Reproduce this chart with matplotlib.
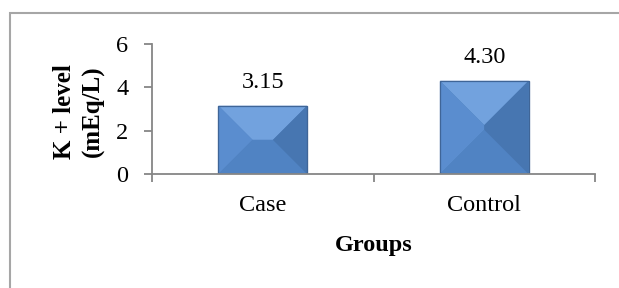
import matplotlib
matplotlib.use("Agg")
import matplotlib.pyplot as plt
from matplotlib.patches import Polygon, Rectangle

# data
groups = ["Case", "Control"]
k_level = [3.15, 4.30]
value_labels = ["3.15", "4.30"]
yticks = [0, 2, 4, 6]

plt.rcParams['font.family'] = ['Liberation Serif', 'DejaVu Serif']

fig = plt.figure(figsize=(6.19, 2.88), dpi=100)
ax = fig.add_axes([152/619, 1-174/288, (595-152)/619, (174-44)/288])

pos = list(range(len(groups)))
bars = ax.bar(pos, k_level, width=0.4, color="#4f81bd", edgecolor="#41689a", linewidth=0.8, zorder=2)

ax.set_xlim(-0.5, len(groups) - 0.5)
ax.set_ylim(0, 6)

# pyramid bevel like the office chart style
axw = (595-152) / (len(groups))   # px per x unit
axh = (174-44) / 6.0              # px per y unit
faces = {"top": "#72a2de", "left": "#5a8dcf", "bottom": "#5083c3", "right": "#4776b1"}
for b in bars:
    x0, y0, w, h = b.get_x(), b.get_y(), b.get_width(), b.get_height()
    d_px = min(w*axw, h*axh) / 2
    dx, dy = d_px/axw, d_px/axh
    x1, y1 = x0 + w, y0 + h
    ix0, ix1, iy0, iy1 = x0+dx, x1-dx, y0+dy, y1-dy
    ax.add_patch(Polygon([(x0, y1), (x1, y1), (ix1, iy1), (ix0, iy1)], closed=True, color=faces["top"], lw=0, zorder=3))
    ax.add_patch(Polygon([(x0, y0), (x0, y1), (ix0, iy1), (ix0, iy0)], closed=True, color=faces["left"], lw=0, zorder=3))
    ax.add_patch(Polygon([(x0, y0), (x1, y0), (ix1, iy0), (ix0, iy0)], closed=True, color=faces["bottom"], lw=0, zorder=3))
    ax.add_patch(Polygon([(x1, y0), (x1, y1), (ix1, iy1), (ix1, iy0)], closed=True, color=faces["right"], lw=0, zorder=3))
    ax.add_patch(Rectangle((x0, y0), w, h, fill=False, edgecolor="#3f6597", lw=0.9, zorder=4))

for b, lab in zip(bars, value_labels):
    ax.annotate(lab, (b.get_x() + b.get_width()/2, b.get_height()), xytext=(0, 9),
                textcoords="offset points", ha="center", va="bottom", fontsize=17.5)

# axes styling
for s in ["top", "right"]:
    ax.spines[s].set_visible(False)
for s in ["left", "bottom"]:
    ax.spines[s].set_color("#868686")
    ax.spines[s].set_linewidth(1.3)
ax.spines["bottom"].set_zorder(5)

ax.set_yticks(yticks)
ax.tick_params(axis="y", length=6, width=1.3, color="#868686", pad=11, labelsize=17.5)
ax.set_xticks([p - 0.5 for p in pos] + [pos[-1] + 0.5])
ax.set_xticklabels([])
ax.set_xticks(pos, minor=True)
ax.set_xticklabels(groups, minor=True)
ax.tick_params(axis="x", which="major", length=6, width=1.3, color="#868686")
ax.tick_params(axis="x", which="minor", length=0, pad=15, labelsize=17.5)

ax.set_xlabel("Groups", fontsize=17.5, fontweight="bold")
ax.xaxis.set_label_coords(0.5, -0.47)
ax.text(-0.165, 0.48, "K + level\n(mEq/L)", transform=ax.transAxes, rotation=90,
        ha="center", va="center", fontsize=18, fontweight="bold", linespacing=1.35)

# outer frame
fig.patches.append(Rectangle((10/619, -0.1), 1.2, 1 - 13/288 + 0.1, transform=fig.transFigure,
                             fill=False, edgecolor="#a6a6a6", lw=1.5))

fig.savefig("out.png", dpi=100)
